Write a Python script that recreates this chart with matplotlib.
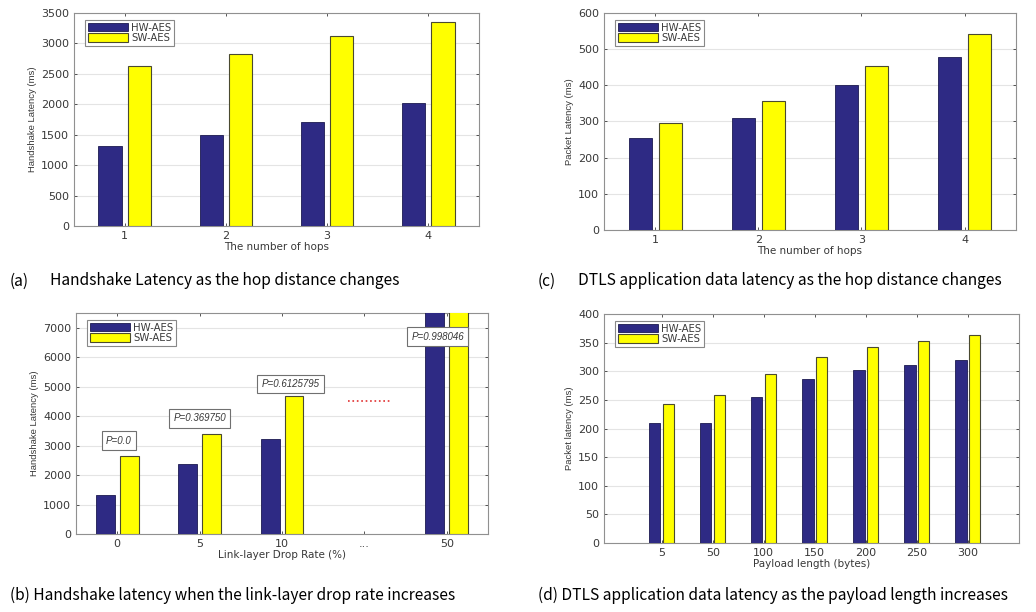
import numpy as np
import matplotlib.pyplot as plt

# ------------------------------------------------------------
# data
# ------------------------------------------------------------
series_names = ["HW-AES", "SW-AES"]

hops = ["1", "2", "3", "4"]
hs_hw = [1323, 1498, 1717, 2018]
hs_sw = [2635, 2832, 3127, 3352]

pkt_hw = [255, 311, 400, 477]
pkt_sw = [295, 356, 453, 542]

drop_labels = ["0", "5", "10", "...", "50"]
drop_hw = [1332, 2382, 3240, np.nan, 9000]
drop_sw = [2653, 3387, 4674, np.nan, 9000]
drop_p = ["P=0.0", "P=0.369750", "P=0.6125795", "P=0.998046"]
drop_p_x = [1.02, 2.0, 3.1, 4.89]
drop_p_y = [3160, 3930, 5090, 6695]

payload = ["5", "50", "100", "150", "200", "250", "300"]
pl_hw = [210, 210, 255, 286, 303, 311, 320]
pl_sw = [243, 259, 296, 325, 342, 352, 363]

captions = [
    ("(a)", "Handshake Latency as the hop distance changes"),
    ("(c)", "DTLS application data latency as the hop distance changes"),
    ("(b) Handshake latency when the link-layer drop rate increases", None),
    ("(d) DTLS application data latency as the payload length increases", None),
]

# ------------------------------------------------------------
# style
# ------------------------------------------------------------
NAVY = "#2E2A84"
YELLOW = "#FFFF00"
EDGE = "#4A4A30"
TXT = "#383838"
W_PX, H_PX = 1036, 612

plt.rcParams["font.family"] = ["DejaVu Sans"]

fig = plt.figure(figsize=(W_PX / 100, H_PX / 100), dpi=100)


def grouped(rect, labels, hw, sw, off, width, ylim, yticks, xlim, xlabel, ylabel):
    ax = fig.add_axes(rect)
    x = np.arange(1, len(labels) + 1)
    ax.bar(x - off, hw, width, color=NAVY, edgecolor="#1C1A50", linewidth=0.6,
           label=series_names[0], zorder=3)
    ax.bar(x + off, sw, width, color=YELLOW, edgecolor=EDGE, linewidth=0.8,
           label=series_names[1], zorder=3)
    ax.set_xlim(*xlim)
    ax.set_ylim(*ylim)
    ax.set_yticks(yticks)
    ax.set_xticks(x)
    ax.set_xticklabels(labels)
    ax.tick_params(labelsize=8, colors=TXT, length=2.5, width=0.6,
                   direction="in", top=True, right=True)
    ax.grid(True, axis="y", color="#E4E4E4", linewidth=0.8, zorder=0)
    for s in ax.spines.values():
        s.set_color("#909090")
        s.set_linewidth(0.8)
    ax.set_xlabel(xlabel, fontsize=7.5, color=TXT, labelpad=1)
    ax.set_ylabel(ylabel, fontsize=6.8, color=TXT, labelpad=3,
                  family=["Liberation Sans", "DejaVu Sans"])
    # legend box sits 11 px right of and 7 px below the axes corner
    ax_w = rect[2] * W_PX
    ax_h = rect[3] * H_PX
    leg = ax.legend(loc="upper left", bbox_to_anchor=(11 / ax_w, 1 - 7 / ax_h),
                    borderaxespad=0, fontsize=7.3, handlelength=4.0,
                    handleheight=0.9, handletextpad=0.3, borderpad=0.25,
                    labelspacing=0.05, fancybox=False, framealpha=1,
                    edgecolor="#888888")
    leg.get_frame().set_linewidth(0.8)
    for t in leg.get_texts():
        t.set_color(TXT)
    return ax


# (a)
ax_a = grouped([0.0714, 0.6307, 0.3909, 0.3480], hops, hs_hw, hs_sw, 0.145, 0.23,
               (0, 3500), np.arange(0, 3501, 500), (0.5, 4.5),
               "The number of hops", "Handshake Latency (ms)")

# (c)
ax_c = grouped([0.5830, 0.6242, 0.3977, 0.3546], hops, pkt_hw, pkt_sw, 0.145, 0.23,
               (0, 600), np.arange(0, 601, 100), (0.5, 4.5),
               "The number of hops", "Packet Latency (ms)")

# (b)
ax_b = grouped([0.0734, 0.1275, 0.3977, 0.3611], drop_labels, drop_hw, drop_sw, 0.145, 0.23,
               (0, 7500), np.arange(0, 7001, 1000), (0.5, 5.5),
               "Link-layer Drop Rate (%)", "Handshake Latency (ms)")
for lab, px, py in zip(drop_p, drop_p_x, drop_p_y):
    ax_b.text(px, py, lab, fontsize=7, style="italic", color=TXT,
              ha="center", va="center", zorder=5,
              family=["Liberation Sans", "DejaVu Sans"],
              bbox=dict(boxstyle="square,pad=0.45", fc="white", ec="#707070", lw=0.8))
ax_b.plot([3.8, 4.31], [4500, 4500], color="#E03030", linestyle=":", linewidth=1.2, zorder=4)

# (d)
ax_d = grouped([0.5830, 0.1127, 0.4006, 0.3742], payload, pl_hw, pl_sw, 0.135, 0.22,
               (0, 400), np.arange(0, 401, 50), (-0.13, 8.0),
               "Payload length (bytes)", "Packet latency (ms)")

# captions
cap_font = ["Noto Sans CJK KR", "DejaVu Sans"]
cap_size = 11.2
fig.text(10 / W_PX, 1 - 281 / H_PX, captions[0][0], fontsize=cap_size, family=cap_font, va="center")
fig.text(50 / W_PX, 1 - 281 / H_PX, captions[0][1], fontsize=cap_size, family=cap_font, va="center")
fig.text(538 / W_PX, 1 - 281 / H_PX, captions[1][0], fontsize=cap_size, family=cap_font, va="center")
fig.text(578 / W_PX, 1 - 281 / H_PX, captions[1][1], fontsize=cap_size, family=cap_font, va="center")
fig.text(10 / W_PX, 1 - 595 / H_PX, captions[2][0], fontsize=cap_size, family=cap_font, va="center")
fig.text(538 / W_PX, 1 - 595 / H_PX, captions[3][0], fontsize=cap_size, family=cap_font, va="center")

fig.savefig("out.png", dpi=100)
